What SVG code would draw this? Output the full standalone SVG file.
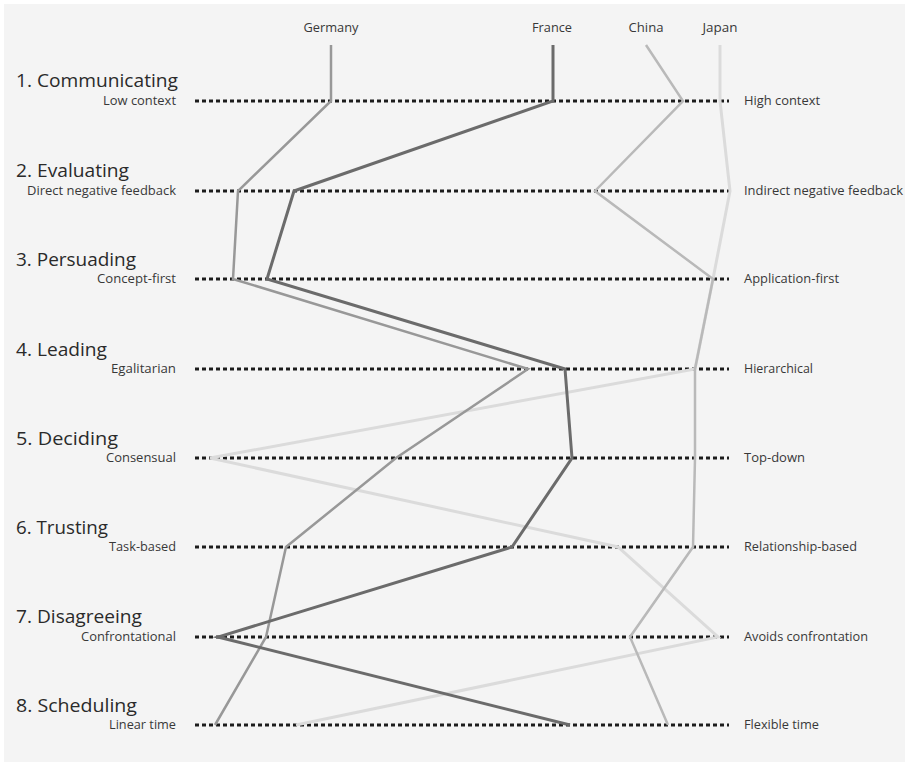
<svg xmlns="http://www.w3.org/2000/svg" width="909" height="766" viewBox="0 0 909 766">
  <style>
    .head { font-family: "Open Sans", "Liberation Sans", sans-serif; font-size: 18.5px; fill: #2a2a2a; }
    .pole { font-family: "Open Sans", "Liberation Sans", sans-serif; font-size: 12px; fill: #383838; }
    .poleL { text-anchor: end; }
    .country { font-family: "Open Sans", "Liberation Sans", sans-serif; font-size: 12.5px; fill: #383838; text-anchor: middle; }
    .scale { stroke: #1c1c1c; stroke-width: 3; stroke-dasharray: 4 3; fill: none; }
    .profile { fill: none; stroke-linejoin: miter; stroke-linecap: butt; }
    .germany { stroke: #989898; stroke-width: 2.5; }
    .france { stroke: #6b6b6b; stroke-width: 3; }
    .china { stroke: #b9b9b9; stroke-width: 2.5; }
    .japan { stroke: #dbdbdb; stroke-width: 3; }
  </style>

  <rect x="0" y="0" width="909" height="766" fill="#ffffff"/>
  <rect x="4" y="4" width="901" height="758" fill="#f4f4f4"/>

  <!-- country headers -->
  <g id="countries">
    <text class="country" x="331" y="32" textLength="55" lengthAdjust="spacingAndGlyphs">Germany</text>
    <text class="country" x="552" y="32" textLength="40" lengthAdjust="spacingAndGlyphs">France</text>
    <text class="country" x="646" y="32" textLength="35" lengthAdjust="spacingAndGlyphs">China</text>
    <text class="country" x="720" y="32" textLength="35" lengthAdjust="spacingAndGlyphs">Japan</text>
  </g>

  <!-- one group per scale: heading, left pole, dotted axis, right pole -->
  <g id="scale-1">
    <text class="head" x="16" y="87" textLength="162" lengthAdjust="spacingAndGlyphs">1. Communicating</text>
    <text class="pole poleL" x="176" y="105" textLength="73" lengthAdjust="spacingAndGlyphs">Low context</text>
    <line class="scale" x1="195" y1="101" x2="729" y2="101"/>
    <text class="pole" x="744" y="105" textLength="76" lengthAdjust="spacingAndGlyphs">High context</text>
  </g>
  <g id="scale-2">
    <text class="head" x="16" y="177" textLength="113" lengthAdjust="spacingAndGlyphs">2. Evaluating</text>
    <text class="pole poleL" x="176" y="195" textLength="149" lengthAdjust="spacingAndGlyphs">Direct negative feedback</text>
    <line class="scale" x1="195" y1="191" x2="729" y2="191"/>
    <text class="pole" x="744" y="195" textLength="159" lengthAdjust="spacingAndGlyphs">Indirect negative feedback</text>
  </g>
  <g id="scale-3">
    <text class="head" x="16" y="266" textLength="120" lengthAdjust="spacingAndGlyphs">3. Persuading</text>
    <text class="pole poleL" x="176" y="283" textLength="79" lengthAdjust="spacingAndGlyphs">Concept-first</text>
    <line class="scale" x1="195" y1="279" x2="729" y2="279"/>
    <text class="pole" x="744" y="283" textLength="95" lengthAdjust="spacingAndGlyphs">Application-first</text>
  </g>
  <g id="scale-4">
    <text class="head" x="16" y="356" textLength="91" lengthAdjust="spacingAndGlyphs">4. Leading</text>
    <text class="pole poleL" x="176" y="373" textLength="65" lengthAdjust="spacingAndGlyphs">Egalitarian</text>
    <line class="scale" x1="195" y1="369" x2="729" y2="369"/>
    <text class="pole" x="744" y="373" textLength="69" lengthAdjust="spacingAndGlyphs">Hierarchical</text>
  </g>
  <g id="scale-5">
    <text class="head" x="16" y="445" textLength="102" lengthAdjust="spacingAndGlyphs">5. Deciding</text>
    <text class="pole poleL" x="176" y="462" textLength="70" lengthAdjust="spacingAndGlyphs">Consensual</text>
    <line class="scale" x1="195" y1="458" x2="729" y2="458"/>
    <text class="pole" x="744" y="462" textLength="61" lengthAdjust="spacingAndGlyphs">Top-down</text>
  </g>
  <g id="scale-6">
    <text class="head" x="16" y="534" textLength="92" lengthAdjust="spacingAndGlyphs">6. Trusting</text>
    <text class="pole poleL" x="176" y="551" textLength="67" lengthAdjust="spacingAndGlyphs">Task-based</text>
    <line class="scale" x1="195" y1="547" x2="729" y2="547"/>
    <text class="pole" x="744" y="551" textLength="113" lengthAdjust="spacingAndGlyphs">Relationship-based</text>
  </g>
  <g id="scale-7">
    <text class="head" x="16" y="623" textLength="126" lengthAdjust="spacingAndGlyphs">7. Disagreeing</text>
    <text class="pole poleL" x="176" y="641" textLength="95" lengthAdjust="spacingAndGlyphs">Confrontational</text>
    <line class="scale" x1="195" y1="637" x2="729" y2="637"/>
    <text class="pole" x="744" y="641" textLength="124" lengthAdjust="spacingAndGlyphs">Avoids confrontation</text>
  </g>
  <g id="scale-8">
    <text class="head" x="16" y="712" textLength="121" lengthAdjust="spacingAndGlyphs">8. Scheduling</text>
    <text class="pole poleL" x="176" y="729" textLength="67" lengthAdjust="spacingAndGlyphs">Linear time</text>
    <line class="scale" x1="195" y1="725" x2="729" y2="725"/>
    <text class="pole" x="744" y="729" textLength="75" lengthAdjust="spacingAndGlyphs">Flexible time</text>
  </g>

  <!-- country profiles across the eight scales -->
  <g id="connectors">
    <polyline class="profile japan" points="720,45 720,101 730,191 713,279 695,369 210,458 618,547 718,637 296,725"/>
    <polyline class="profile china" points="646,45 683,101 595,191 713,279 695,369 695,458 693,547 630,637 668,725"/>
    <polyline class="profile germany" points="331,45 331,101 238,191 233,279 528,369 396,458 286,547 266,637 215,725"/>
    <polyline class="profile france" points="553,45 553,101 294,191 267,279 565,369 572,458 512,547 218,637 570,725"/>
  </g>
</svg>
